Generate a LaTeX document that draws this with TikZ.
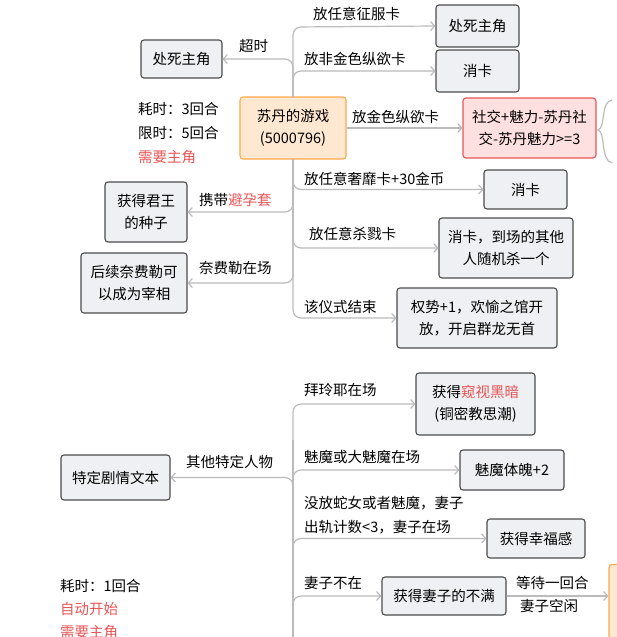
\documentclass[tikz,border=0pt]{standalone}
\usepackage{fontspec}
\setmainfont{Noto Sans CJK SC}
\usetikzlibrary{arrows.meta}
\definecolor{ln}{HTML}{BBBBBB}
\definecolor{bx}{HTML}{EEF0F3}
\definecolor{rd}{HTML}{E85555}
\tikzset{
 box/.style={draw=black!70,line width=1.1pt,fill=bx,rounded corners=3pt,inner sep=0pt,align=center,font=\fontsize{14.5}{22}\selectfont},
 lbl/.style={anchor=south west,inner sep=1pt,font=\fontsize{14.5}{24}\selectfont,align=left},
 txt/.style={anchor=west,inner sep=0pt,font=\fontsize{14.5}{22}\selectfont},
 con/.style={draw=ln,line width=1.2pt,rounded corners=8pt,-{Straight Barb[length=4pt,width=9pt]}},
 tr/.style={draw=ln,line width=1.2pt,rounded corners=8pt}
}
\begin{document}
\begin{tikzpicture}[x=1pt,y=-1pt]
\useasboundingbox[fill=white] (0,0) rectangle (616,637);
% top section
\node[box,draw=orange!70,fill=orange!18,minimum width=106pt,minimum height=62pt] (c) at (293,128) {苏丹的游戏\\(5000796)};
\node[box,minimum width=83pt,minimum height=42pt] (a1) at (477.5,26) {处死主角};
\node[box,minimum width=83pt,minimum height=42pt] (a2) at (477.5,71) {消卡};
\node[box,draw=rd,fill=red!12,minimum width=133pt,minimum height=60pt] (a3) at (529.5,128) {社交+魅力-苏丹社\\交-苏丹魅力>=3};
\node[box,minimum width=83pt,minimum height=39pt] (a4) at (525.5,189.5) {消卡};
\node[box,minimum width=134pt,minimum height=60pt] (a5) at (506,248) {消卡，到场的其他\\人随机杀一个};
\node[box,minimum width=160pt,minimum height=60pt] (a6) at (477,318) {权势+1，欢愉之馆开\\放，开启群龙无首};
\node[box,minimum width=81pt,minimum height=38pt] (b1) at (181.5,59) {处死主角};
\node[box,minimum width=82pt,minimum height=60pt] (b2) at (146,212) {获得君王\\的种子};
\node[box,minimum width=106pt,minimum height=60pt] (b3) at (134,283) {后续奈费勒可\\以成为宰相};
\draw[con] (c.north) -- (293,27) -- (a1.west);
\draw[con] (293,97) |- (a2.west);
\draw[con] (c.east) -- (a3.west);
\draw[con] (c.south) |- (a4.west);
\draw[con] (293,159) |- (a5.west);
\draw[con] (293,159) |- (a6.west);
\draw[con] (293,97) |- (b1.east);
\draw[con] (293,159) |- (b2.east);
\draw[con] (293,159) |- (b3.east);
\node[lbl] at (312,22) {放任意征服卡};
\node[lbl] at (303,67) {放非金色纵欲卡};
\node[lbl] at (351,125) {放金色纵欲卡};
\node[lbl] at (303,187) {放任意奢靡卡+30金币};
\node[lbl] at (308,242) {放任意杀戮卡};
\node[lbl] at (303,315) {该仪式结束};
\node[lbl] at (238,54) {超时};
\node[lbl] at (198,208) {携带\textcolor{rd}{避孕套}};
\node[lbl] at (198,276) {奈费勒在场};
\node[txt] at (138,109) {耗时：3回合};
\node[txt] at (138,133) {限时：5回合};
\node[txt,text=rd] at (138,157) {需要主角};
\draw[ln,line width=1.2pt] (612,100) .. controls (600,102) and (606,128) .. (598,130) .. controls (606,132) and (600,160) .. (612,163);
% bottom section
\node[box,minimum width=119pt,minimum height=62pt] (d1) at (475.5,404) {获得\textcolor{rd}{窥视黑暗}\\(铜密教思潮)};
\node[box,minimum width=109pt,minimum height=45pt] (d0) at (115.5,477.5) {特定剧情文本};
\node[box,minimum width=104pt,minimum height=40pt] (d2) at (512,470) {魅魔体魄+2};
\node[box,minimum width=98pt,minimum height=39pt] (d3) at (536,538.5) {获得幸福感};
\node[box,minimum width=124pt,minimum height=38pt] (d4) at (444,596) {获得妻子的不满};
\node[box,draw=orange!70,fill=orange!18,minimum width=110pt,minimum height=75pt] (d5) at (664,602) {};
\draw[tr] (293,637) -- (293,440);
\draw[con] (293,470) -- (293,420) |- (d1.west);
\draw[con] (293,500) |- (d2.west);
\draw[con] (293,500) |- (d0.east);
\draw[con] (293,560) |- (d3.west);
\draw[con] (293,620) |- (d4.west);
\draw[con] (d4.east) -- (d4.east -| d5.west);
\node[lbl] at (303,398) {拜玲耶在场};
\node[lbl] at (185,470) {其他特定人物};
\node[lbl] at (303,465) {魅魔或大魅魔在场};
\node[lbl] at (303,535) {没放蛇女或者魅魔，妻子\\出轨计数<3，妻子在场};
\node[lbl] at (303,591) {妻子不在};
\node[lbl] at (515,591) {等待一回合};
\node[lbl,anchor=north west] at (519,598) {妻子空闲};
\node[txt] at (60,586) {耗时：1回合};
\node[txt,text=rd] at (60,609) {自动开始};
\node[txt,text=rd] at (60,632) {需要主角};
\end{tikzpicture}
\end{document}
